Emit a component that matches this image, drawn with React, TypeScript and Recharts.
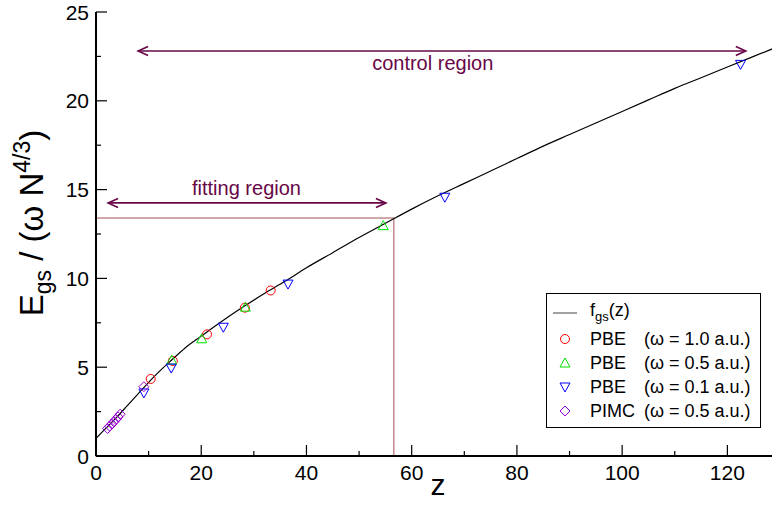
import React from "react";
import {
  ComposedChart,
  Label,
  Legend,
  Line,
  ReferenceArea,
  ReferenceLine,
  Scatter,
  XAxis,
  YAxis,
} from "recharts";

const FONT = '"Liberation Sans", Arial, Helvetica, sans-serif';
const RED = "#ff0000";
const GREEN = "#00e000";
const BLUE = "#0000ff";
const VIOLET = "#9400d3";
const MAROON = "#670748";
const FIT_BOX = "#c48a8a";

// fitted curve f_gs(z)
const curveZ = [0, 2, 4, 6, 8, 10, 12, 14, 17, 20, 24, 28, 32, 36, 40, 45, 50, 55, 60, 65, 70, 75, 80, 85, 90, 95, 100, 105, 110, 115, 120, 125, 130];
const curveE = [1.0, 1.6, 2.2, 2.85, 3.5, 4.15, 4.75, 5.3, 6.1, 6.75, 7.6, 8.4, 9.15, 9.85, 10.6, 11.45, 12.3, 13.1, 13.9, 14.65, 15.35, 16.05, 16.75, 17.45, 18.1, 18.75, 19.4, 20.05, 20.7, 21.3, 21.9, 22.5, 23.1];

const pbe10Z = [10.4, 14.6, 21.1, 28.3, 33.2];
const pbe10E = [4.34, 5.35, 6.85, 8.35, 9.32];
const pbe05Z = [14.4, 20.1, 28.4, 54.6];
const pbe05E = [5.4, 6.6, 8.38, 12.97];
const pbe01Z = [9.1, 14.3, 24.2, 36.5, 66.3, 122.5];
const pbe01E = [3.55, 4.95, 7.25, 9.68, 14.57, 22.05];
const pimcZ = [2.2, 2.6, 3.0, 3.4, 3.8, 4.2, 4.6, 9.1];
const pimcE = [1.55, 1.68, 1.8, 1.93, 2.06, 2.2, 2.35, 3.9];

const xTicks = [0, 10, 20, 30, 40, 50, 60, 70, 80, 90, 100, 110, 120, 130];
const yTicks = [0, 2.5, 5, 7.5, 10, 12.5, 15, 17.5, 20, 22.5, 25];

// fitting region box corner
const fitZ = 56.6;
const fitE = 13.4;

const controlArrow = { z1: 8, z2: 123.5, e: 22.8, labelZ: 64, text: "control region" };
const fittingArrow = { z1: 2.3, z2: 55.1, e: 14.25, labelZ: 28.6, text: "fitting region" };

const zip = (zs: number[], es: number[]) => zs.map((z, i) => ({ z, e: es[i] }));

const curve = zip(curveZ, curveE);
const pbe10 = zip(pbe10Z, pbe10E);
const pbe05 = zip(pbe05Z, pbe05E);
const pbe01 = zip(pbe01Z, pbe01E);
const pimc = zip(pimcZ, pimcE);

function circleShape(p: any) {
  return <circle cx={p.cx} cy={p.cy} r={4.5} fill="none" stroke={RED} strokeWidth={1} />;
}
function triUpShape(p: any) {
  const { cx, cy } = p;
  return <path d={`M${cx},${cy - 5} L${cx + 5},${cy + 4} L${cx - 5},${cy + 4} Z`} fill="none" stroke={GREEN} strokeWidth={1} />;
}
function triDownShape(p: any) {
  const { cx, cy } = p;
  return <path d={`M${cx},${cy + 5} L${cx + 5},${cy - 4} L${cx - 5},${cy - 4} Z`} fill="none" stroke={BLUE} strokeWidth={1} />;
}
function diamondShape(p: any) {
  const { cx, cy } = p;
  return <path d={`M${cx},${cy - 5} L${cx + 5},${cy} L${cx},${cy + 5} L${cx - 5},${cy} Z`} fill="none" stroke={VIOLET} strokeWidth={1} />;
}

function BottomTick(props: any) {
  const { x, y, payload } = props;
  const major = payload.value % 20 === 0;
  return (
    <g>
      <line x1={x} y1={y} x2={x} y2={y - (major ? 11 : 5)} stroke="#000" strokeWidth={1.2} />
      {major && (
        <text x={x} y={y + 24} textAnchor="middle" fontSize={21} fontFamily={FONT} fill="#000">
          {payload.value}
        </text>
      )}
    </g>
  );
}

function TopTick(props: any) {
  const { x, y, payload } = props;
  const major = payload.value % 20 === 0;
  return <line x1={x} y1={y} x2={x} y2={y + (major ? 11 : 5)} stroke="#000" strokeWidth={1.2} />;
}

function LeftTick(props: any) {
  const { x, y, payload } = props;
  const major = payload.value % 5 === 0;
  return (
    <g>
      <line x1={x} y1={y} x2={x + (major ? 11 : 5)} y2={y} stroke="#000" strokeWidth={1.2} />
      {major && (
        <text x={x - 7} y={y + 7.5} textAnchor="end" fontSize={21} fontFamily={FONT} fill="#000">
          {payload.value}
        </text>
      )}
    </g>
  );
}

function RightTick(props: any) {
  const { x, y, payload } = props;
  const major = payload.value % 5 === 0;
  return <line x1={x} y1={y} x2={x - (major ? 11 : 5)} y2={y} stroke="#000" strokeWidth={1.2} />;
}

function renderYLabel(p: any) {
  const vb = p.viewBox;
  const cy = vb.y + vb.height / 2 - 11;
  return (
    <text
      transform="rotate(-90)"
      x={-cy}
      y={vb.x + 43}
      textAnchor="middle"
      fontSize={33}
      fontFamily={FONT}
      fill="#000"
    >
      E
      <tspan fontSize={23} dy={8}>gs</tspan>
      <tspan dy={-8}> / (ω N</tspan>
      <tspan fontSize={23} dy={-13}>4/3</tspan>
      <tspan dy={13}>)</tspan>
    </text>
  );
}

function renderXLabel(p: any) {
  const vb = p.viewBox;
  return (
    <text x={vb.x + vb.width / 2} y={vb.y + 39} textAnchor="middle" fontSize={30} fontFamily={FONT} fill="#000">
      z
    </text>
  );
}

function arrowShape(a: typeof controlArrow, below: boolean) {
  return (p: any) => {
    const { x1, y1, x2 } = p;
    const lx = x1 + ((a.labelZ - a.z1) / (a.z2 - a.z1)) * (x2 - x1);
    return (
      <g>
        <line x1={x1} y1={y1} x2={x2} y2={y1} stroke={MAROON} strokeWidth={1.6} />
        <polyline points={`${x1 + 10},${y1 - 4.5} ${x1},${y1} ${x1 + 10},${y1 + 4.5}`} fill="none" stroke={MAROON} strokeWidth={1.6} />
        <polyline points={`${x2 - 10},${y1 - 4.5} ${x2},${y1} ${x2 - 10},${y1 + 4.5}`} fill="none" stroke={MAROON} strokeWidth={1.6} />
        <text x={lx} y={below ? y1 + 19 : y1 - 8} textAnchor="middle" fontSize={20} fontFamily={FONT} fill={MAROON}>
          {a.text}
        </text>
      </g>
    );
  };
}

const legendRows = [
  { name: "PBE", note: "(ω = 1.0 a.u.)" },
  { name: "PBE", note: "(ω = 0.5 a.u.)" },
  { name: "PBE", note: "(ω = 0.1 a.u.)" },
  { name: "PIMC", note: "(ω = 0.5 a.u.)" },
];
const legendShapes = [circleShape, triUpShape, triDownShape, diamondShape];

function LegendBox() {
  return (
    <div
      style={{
        border: "1px solid #000",
        background: "#fff",
        padding: "5px 0 4px 6px",
        width: 207,
        fontFamily: FONT,
        fontSize: 18,
        color: "#000",
        lineHeight: "24px",
      }}
    >
      <div style={{ display: "flex", alignItems: "center", height: 28 }}>
        <svg width={24} height={28} style={{ display: "block" }}>
          <line x1={0} y1={14} x2={24} y2={14} stroke="#444" strokeWidth={1} />
        </svg>
        <span style={{ marginLeft: 13 }}>
          f<sub style={{ fontSize: 13, verticalAlign: "-5px" }}>gs</sub>(z)
        </span>
      </div>
      {legendRows.map((r, i) => (
        <div key={i} style={{ display: "flex", alignItems: "center", height: 24 }}>
          <svg width={24} height={24} style={{ display: "block" }}>
            {legendShapes[i]({ cx: 12, cy: 12 })}
          </svg>
          <span style={{ marginLeft: 13, width: 54, display: "inline-block" }}>{r.name}</span>
          <span>{r.note}</span>
        </div>
      ))}
    </div>
  );
}

export default function App() {
  return (
    <div style={{ position: "fixed", left: 0, top: 0, width: 772, height: 506, overflow: "hidden", background: "#fff" }}>
      <ComposedChart width={790} height={506} margin={{ top: 12, right: 10, bottom: 0, left: 0 }}>
        <XAxis
          xAxisId={0}
          dataKey="z"
          type="number"
          domain={[0, 130]}
          allowDataOverflow
          ticks={xTicks}
          interval={0}
          height={50}
          tickSize={0}
          tickMargin={0}
          tickLine={false}
          tick={<BottomTick />}
          axisLine={{ stroke: "#000", strokeWidth: 2 }}
        >
          <Label content={renderXLabel} />
        </XAxis>
        <XAxis
          xAxisId="top"
          orientation="top"
          dataKey="z"
          type="number"
          domain={[0, 130]}
          allowDataOverflow
          ticks={xTicks}
          interval={0}
          height={0}
          tickSize={0}
          tickMargin={0}
          tickLine={false}
          tick={<TopTick />}
          axisLine={{ stroke: "#000", strokeWidth: 2 }}
        />
        <YAxis
          yAxisId={0}
          dataKey="e"
          type="number"
          domain={[0, 25]}
          allowDataOverflow
          ticks={yTicks}
          interval={0}
          width={96}
          tickSize={0}
          tickMargin={0}
          tickLine={false}
          tick={<LeftTick />}
          axisLine={{ stroke: "#000", strokeWidth: 2 }}
        >
          <Label content={renderYLabel} />
        </YAxis>
        <YAxis
          yAxisId="right"
          orientation="right"
          dataKey="e"
          type="number"
          domain={[0, 25]}
          allowDataOverflow
          ticks={yTicks}
          interval={0}
          width={0}
          tickSize={0}
          tickMargin={0}
          tickLine={false}
          tick={<RightTick />}
          axisLine={{ stroke: "#000", strokeWidth: 2 }}
        />
        <ReferenceArea
          x1={0}
          x2={fitZ}
          y1={0}
          y2={fitE}
          fill="none"
          stroke={FIT_BOX}
          strokeWidth={1.5}
          ifOverflow="visible"
        />
        <ReferenceLine
          segment={[{ x: controlArrow.z1, y: controlArrow.e }, { x: controlArrow.z2, y: controlArrow.e }]}
          ifOverflow="visible"
          shape={arrowShape(controlArrow, true)}
        />
        <ReferenceLine
          segment={[{ x: fittingArrow.z1, y: fittingArrow.e }, { x: fittingArrow.z2, y: fittingArrow.e }]}
          ifOverflow="visible"
          shape={arrowShape(fittingArrow, false)}
        />
        <Line
          data={curve}
          dataKey="e"
          type="monotone"
          stroke="#000"
          strokeWidth={1.2}
          dot={false}
          activeDot={false}
          isAnimationActive={false}
        />
        <Scatter data={pbe10} dataKey="e" shape={circleShape} isAnimationActive={false} />
        <Scatter data={pbe05} dataKey="e" shape={triUpShape} isAnimationActive={false} />
        <Scatter data={pbe01} dataKey="e" shape={triDownShape} isAnimationActive={false} />
        <Scatter data={pimc} dataKey="e" shape={diamondShape} isAnimationActive={false} />
        <Legend
          layout="vertical"
          align="center"
          verticalAlign="middle"
          content={() => <LegendBox />}
          wrapperStyle={{ left: 546, top: 293, width: 215, height: "auto" }}
        />
      </ComposedChart>
    </div>
  );
}
